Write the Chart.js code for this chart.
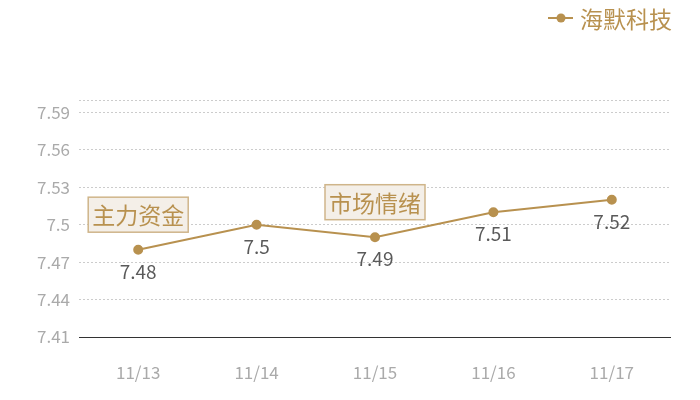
<!DOCTYPE html>
<html>
<head>
<meta charset="utf-8">
<script src="https://cdn.jsdelivr.net/npm/chart.js@4"></script>
<style>
html, body { margin: 0; padding: 0; background: #fff; }
#wrap { width: 700px; height: 400px; }
</style>
</head>
<body>
<div id="wrap"><canvas id="lineChart"></canvas></div>
<script>
// Data
const categories = ['11/13', '11/14', '11/15', '11/16', '11/17'];
const prices = [7.48, 7.5, 7.49, 7.51, 7.52];
const yTicks = [7.41, 7.44, 7.47, 7.5, 7.53, 7.56, 7.59];
const yMin = 7.41;
const yMax = 7.6;
const seriesName = '海默科技';
const noteIndex = [0, 2];
const noteText = ['主力资金', '市场情绪'];

const gold = '#b8914f';
const cjk = '"Noto Sans CJK SC", "Noto Sans", sans-serif';

// labels, notes and legend drawn on top
const overlay = {
    id: 'overlay',
    afterDatasetsDraw(chart) {
        const ctx = chart.ctx;
        const meta = chart.getDatasetMeta(0);
        ctx.save();
        ctx.textAlign = 'center';
        ctx.textBaseline = 'middle';

        // value labels under the points
        ctx.fillStyle = '#5a5a5a';
        ctx.font = '19px ' + cjk;
        meta.data.forEach((pt, i) => {
            ctx.fillText(String(prices[i]), pt.x, pt.y + 22);
        });

        // note boxes above some points
        ctx.font = '23px ' + cjk;
        noteIndex.forEach((idx, k) => {
            const pt = meta.data[idx];
            const w = 100, h = 35;
            const cx = pt.x, cy = pt.y - 35;
            ctx.fillStyle = '#f4efe8';
            ctx.fillRect(cx - w / 2, cy - h / 2, w, h);
            ctx.strokeStyle = '#cfb58a';
            ctx.lineWidth = 1.5;
            ctx.strokeRect(cx - w / 2, cy - h / 2, w, h);
            ctx.fillStyle = gold;
            ctx.fillText(noteText[k], cx, cy + 1);
        });

        // legend
        ctx.strokeStyle = gold;
        ctx.lineWidth = 2;
        ctx.beginPath();
        ctx.moveTo(548, 18);
        ctx.lineTo(573, 18);
        ctx.stroke();
        ctx.fillStyle = gold;
        ctx.beginPath();
        ctx.arc(561, 18, 4.5, 0, Math.PI * 2);
        ctx.fill();
        ctx.textAlign = 'left';
        ctx.font = '23px ' + cjk;
        ctx.fillText(seriesName, 580, 19);
        ctx.restore();
    }
};

const ctxLine = document.getElementById('lineChart').getContext('2d');
const lineChart = new Chart(ctxLine, {
    type: 'line',
    data: {
        labels: categories,
        datasets: [{
            label: seriesName,
            data: prices,
            borderColor: gold,
            backgroundColor: gold,
            borderWidth: 2,
            pointRadius: 4,
            pointHoverRadius: 4,
            tension: 0
        }]
    },
    options: {
        responsive: true,
        maintainAspectRatio: false,
        animation: false,
        layout: { padding: { top: 100, right: 29, bottom: 0, left: 0 } },
        plugins: {
            legend: { display: false },
            tooltip: { enabled: false }
        },
        scales: {
            x: {
                offset: true,
                grid: { display: false, drawTicks: false },
                border: { display: false },
                ticks: {
                    color: '#aaa',
                    padding: 25,
                    font: { family: cjk, size: 17 }
                },
                afterFit(scale) { scale.height = 63; }
            },
            y: {
                min: yMin,
                max: yMax,
                afterBuildTicks(scale) {
                    scale.ticks = yTicks.concat([yMax]).map(v => ({ value: v }));
                },
                grid: {
                    drawTicks: false,
                    lineWidth: 1,
                    color: c => (c.tick && c.tick.value === yMin) ? '#333' : '#cccccc'
                },
                border: {
                    display: false,
                    dash: c => (c.tick && c.tick.value === yMin) ? [] : [2, 2]
                },
                ticks: {
                    color: '#aaa',
                    padding: 9,
                    font: { family: cjk, size: 17 },
                    callback: v => (v === yMax ? '' : String(v))
                },
                afterFit(scale) { scale.width = 79; }
            }
        }
    },
    plugins: [overlay]
});
</script>
</body>
</html>
